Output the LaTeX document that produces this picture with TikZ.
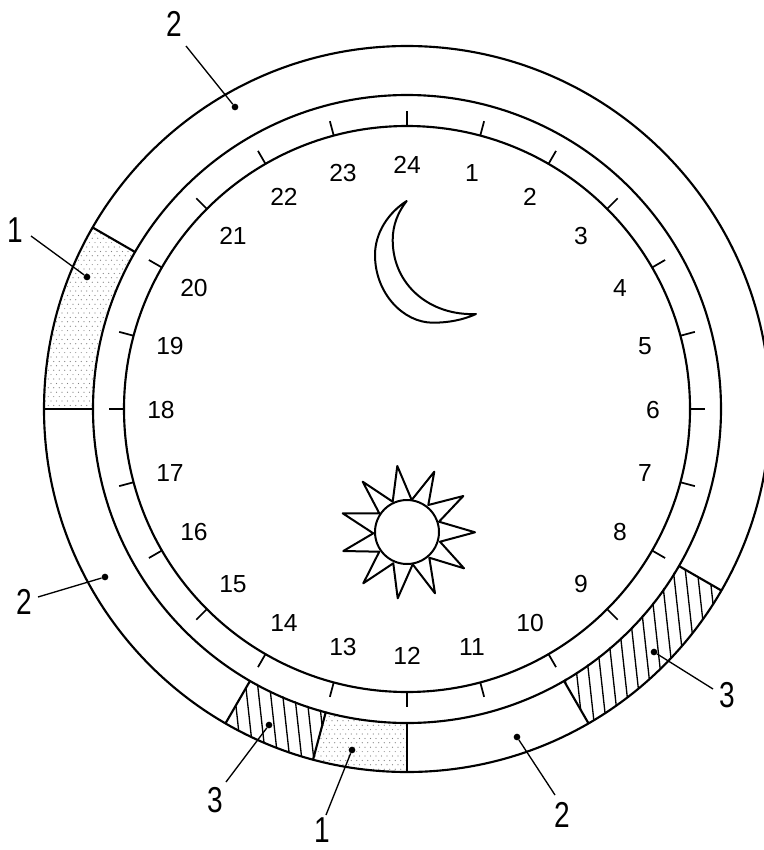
\documentclass[tikz,border=0pt]{standalone}
\usepackage{fontspec}
\setmainfont{Liberation Sans}
\begin{document}
\begin{tikzpicture}[x=0.75pt,y=-0.75pt,line join=round,
  ring/.style={line width=1.6pt,black},
  hatchline/.style={line width=1pt,black},
  tick/.style={line width=1.3pt,black},
  shapeline/.style={line width=1.5pt,black,fill=white},
  leader/.style={line width=1pt,black},
  hourlabel/.style={font=\fontsize{18.5}{20}\selectfont,inner sep=0pt},
  calllabel/.style={font=\fontsize{27}{30}\selectfont,inner sep=0pt,xscale=0.78},
  pin/.style={circle,fill=black,inner sep=0pt,minimum size=5pt}]
\useasboundingbox (0,0) rectangle (764,850);
\clip (0,0) rectangle (764,850);
\coordinate (c) at (407,409);
% dotted sectors
\foreach \ha/\hb/\xa/\xb/\ya/\yb in {18/20/40/140/225/412, 12/13/310/410/712/775}{
  \begin{scope}
    \clip plot[domain=\ha:\hb,samples=25] ({407+313*sin(15*\x)},{409-313*cos(15*\x)})
       -- plot[domain=\hb:\ha,samples=25] ({407+363*sin(15*\x)},{409-363*cos(15*\x)}) -- cycle;
    \foreach \i in {0,...,26}{
      \foreach \j in {0,...,48}{
        \pgfmathsetmacro{\px}{\xa+\i*5.5+mod(\j,2)*2.75}
        \pgfmathsetmacro{\py}{\ya+\j*4.4}
        \fill[black!50] (\px,\py) circle[radius=0.6];
      }
    }
  \end{scope}
}
% hatched sectors
\foreach \ha/\hb/\xs in {13/14/199.3, 8/10/555.6}{
  \begin{scope}
    \clip plot[domain=\ha:\hb,samples=25] ({407+313*sin(15*\x)},{409-313*cos(15*\x)})
       -- plot[domain=\hb:\ha,samples=25] ({407+363*sin(15*\x)},{409-363*cos(15*\x)}) -- cycle;
    \foreach \k in {0,...,14}{
      \draw[hatchline] ({\xs+\k*12-0.11*150},550) -- ({\xs+\k*12+0.11*150},850);
    }
  \end{scope}
}
% rings
\draw[ring] (c) circle[radius=363];
\draw[ring] (c) circle[radius=314];
\draw[ring] (c) circle[radius=283];
% sector borders
\foreach \h in {8,10,12,13,14,18,20}{
  \draw[ring] ({407+314*sin(15*\h)},{409-314*cos(15*\h)}) -- ({407+363*sin(15*\h)},{409-363*cos(15*\h)});
}
% ticks
\foreach \h in {1,...,24}{
  \draw[tick] ({407+283*sin(15*\h)},{409-283*cos(15*\h)}) -- ({407+298*sin(15*\h)},{409-298*cos(15*\h)});
}
% hour labels
\foreach \t/\x/\y in {24/407/165,1/472/173,2/530/197,3/581/236,4/620/288,5/645/346,6/653/410,
  7/645/473,8/620/532,9/581/584,10/530/623,11/472/647,12/407/656,13/343/647,14/284/623,
  15/233/584,16/194/532,17/170/473,18/161/410,19/170/346,20/194/288,21/233/236,22/284/197,23/343/173}{
  \node[hourlabel] (h\t) at (\x,\y) {\t};
}
% moon
\draw[shapeline] (406.7,201) .. controls (388,213) and (375,233) .. (375,255)
  .. controls (375,293) and (403,322.7) .. (433,322.7)
  .. controls (448,322.7) and (463,320) .. (476,314)
  .. controls (430,316) and (392.7,285) .. (392.7,240)
  .. controls (392.7,225) and (398,212) .. (406.7,201) -- cycle;
% sun
\draw[shapeline] (392.7,501.7) -- (397.3,466) -- (411.7,500) -- (434.3,471.7) -- (428.3,505) -- (463.3,496) -- (439,521.7)
  -- (475,532.3) -- (440,541.7) -- (464,568.3) -- (429.3,557.7) -- (435,593.3) -- (412.7,564.3) -- (397.7,598.3)
  -- (393.3,563.3) -- (363.3,583.3) -- (379.3,551.7) -- (343.3,551) -- (373.3,533.3) -- (342.7,513.3) -- (379.3,513.3)
  -- (362.7,481.7) -- cycle;
\draw[shapeline] (407,532) circle[radius=32];
% callouts
\foreach \n/\t/\lx/\ly/\dx/\dy/\ax/\ay in {
  a/2/174/24/235/107/186/46,
  b/1/15/230/87/277/31/236,
  c/2/24/602/105/577/38/597,
  d/3/215/800/269/725/226/782,
  e/1/322/830/352/750/326/815,
  f/2/562/815/517/737/555/795,
  g/3/727/695/654/652/713/689}{
  \node[calllabel] (lab\n) at (\lx,\ly) {\t};
  \node[pin] (pin\n) at (\dx,\dy) {};
  \coordinate (end\n) at (\ax,\ay);
  \draw[leader] (end\n) -- (pin\n);
}
\end{tikzpicture}
\end{document}
